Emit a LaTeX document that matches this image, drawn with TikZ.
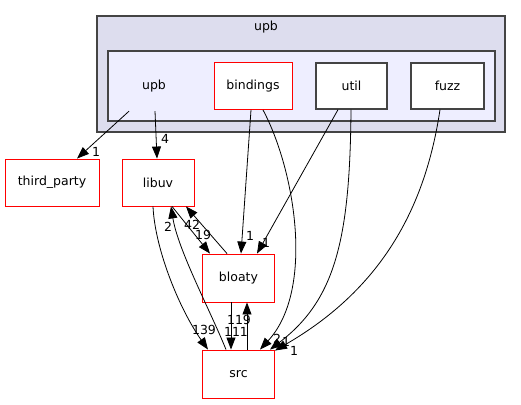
\documentclass[tikz,border=0pt]{standalone}
\usepackage{fontspec}
\setmainfont{DejaVu Sans}
\usetikzlibrary{arrows.meta}
\definecolor{clusterout}{HTML}{DDDDEE}
\definecolor{clusterin}{HTML}{EEEEFF}
\definecolor{clusterline}{HTML}{444444}
\begin{document}
\begin{tikzpicture}[x=1pt,y=-1pt,font=\fontsize{12.5}{14}\selectfont,
    dir/.style={draw=red,line width=0.9pt,fill=white,minimum height=47pt,inner sep=0pt},
    subdir/.style={draw=clusterline,line width=1.3pt,fill=white,minimum height=46pt,inner sep=0pt},
    dep/.style={line width=0.8pt,-{Triangle[length=12pt,width=9pt]}},
    num/.style={inner sep=0pt}]
    \useasboundingbox (0,0) rectangle (521,404);
    % clusters
    \filldraw[fill=clusterout,draw=clusterline,line width=1.5pt] (97,16) rectangle (505,132);
    \node at (266,27) {upb};
    \filldraw[fill=clusterin,draw=clusterline,line width=1.5pt] (108,51) rectangle (495,121);
    \node[minimum width=60pt,minimum height=50pt] (upb) at (154,86) {upb};
    \node[dir,minimum width=78pt] (bindings) at (253,86) {bindings};
    \node[subdir,minimum width=71pt] (util) at (351.5,86) {util};
    \node[subdir,minimum width=73pt] (fuzz) at (447.5,86) {fuzz};
    % directories outside
    \node[dir,minimum width=94pt] (third_party) at (52,182.5) {third\_party};
    \node[dir,minimum width=72pt] (libuv) at (158,182.5) {libuv};
    \node[dir,minimum width=72pt,minimum height=48pt] (bloaty) at (238.5,278) {bloaty};
    \node[dir,minimum width=72pt,minimum height=48pt] (src) at (238.5,374) {src};
    % dependencies
    \draw[dep] ([xshift=-25pt]upb.south) -- ([xshift=25pt]third_party.north);
    \node[num] at (96,152) {1};
    \draw[dep] ([xshift=1pt]upb.south) -- ([xshift=-1pt]libuv.north);
    \node[num] at (165,139) {4};
    \draw[dep] ([xshift=-2pt]bindings.south) -- ([xshift=2.5pt]bloaty.north);
    \node[num] at (250,236) {1};
    \draw[dep] ([xshift=10pt]bindings.south) .. controls (295,170) and (315,290) .. ([xshift=21.5pt]src.north);
    \node[num] at (277,339) {2};
    \draw[dep] ([xshift=-13.5pt]util.south) -- ([xshift=18.5pt]bloaty.north);
    \node[num] at (266,243) {1};
    \draw[dep] ([xshift=-0.5pt]util.south) .. controls (350,240) and (335,300) .. ([xshift=31.5pt]src.north);
    \node[num] at (286,342) {1};
    \draw[dep] ([xshift=-7.5pt]fuzz.south) .. controls (425,210) and (380,290) .. ([yshift=-1pt]src.north east);
    \node[num] at (294,351) {1};
    \draw[dep] ([xshift=-5pt]libuv.south) .. controls (155,250) and (180,310) .. ([xshift=-30.5pt]src.north);
    \node[num] at (204,330) {139};
    \draw[dep] ([xshift=-12.5pt]src.north) .. controls (210,310) and (178,250) .. ([xshift=13pt]libuv.south);
    \node[num] at (168,227) {2};
    \draw[dep] ([xshift=-11.5pt]bloaty.north) -- ([xshift=28pt]libuv.south);
    \node[num] at (192,225) {42};
    \draw[dep] ([xshift=14pt]libuv.south) -- ([xshift=-28.5pt]bloaty.north);
    \node[num] at (203,235) {19};
    \draw[dep] ([xshift=-7.5pt]bloaty.south) -- ([xshift=-7.5pt]src.north);
    \node[num] at (236,332) {111};
    \draw[dep] ([xshift=8.5pt]src.north) -- ([xshift=8.5pt]bloaty.south);
    \node[num] at (239,320) {119};
\end{tikzpicture}
\end{document}
